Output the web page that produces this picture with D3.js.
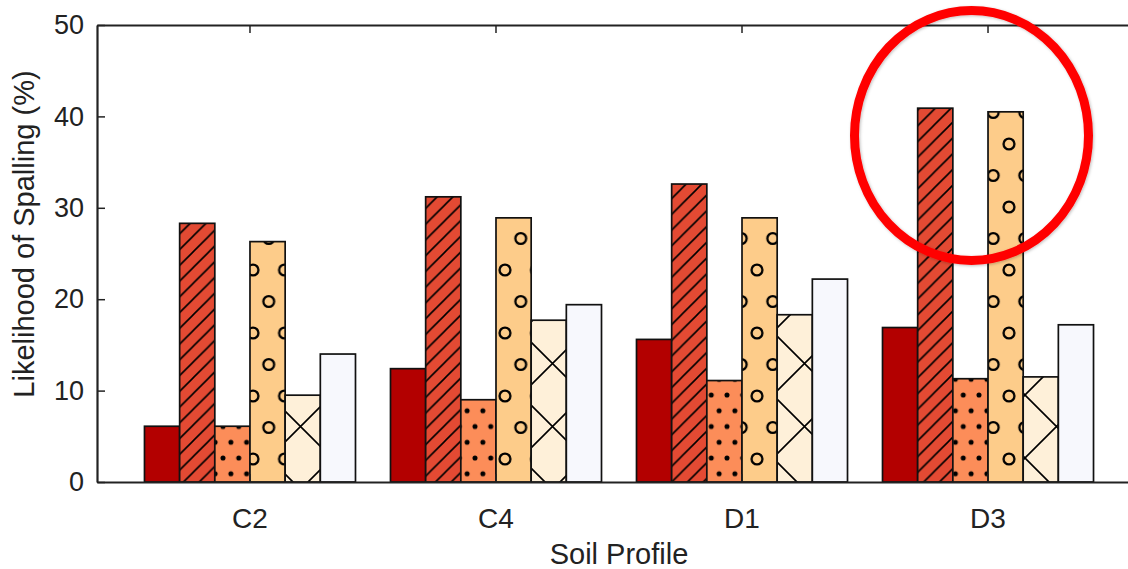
<!DOCTYPE html>
<html>
<head>
<meta charset="utf-8">
<script src="https://cdn.jsdelivr.net/npm/d3@7"></script>
<style>
  html, body { margin: 0; padding: 0; background: #ffffff; }
  svg { display: block; }
  text { font-family: "Liberation Sans", Arial, Helvetica, sans-serif; fill: #222; }
</style>
</head>
<body>
<svg id="chart" width="1128" height="569"></svg>
<script>
const categories = ["C2", "C4", "D1", "D3"];
const seriesNames = ["s1", "s2", "s3", "s4", "s5", "s6"];
const s1 = [6.1, 12.4, 15.6, 16.9];
const s2 = [28.3, 31.2, 32.6, 40.9];
const s3 = [6.1, 9.0, 11.1, 11.3];
const s4 = [26.3, 28.9, 28.9, 40.5];
const s5 = [9.5, 17.7, 18.3, 11.5];
const s6 = [14.0, 19.4, 22.2, 17.2];
const yTicks = [0, 10, 20, 30, 40, 50];
const xTitle = "Soil Profile";
const yTitle = "Likelihood of Spalling (%)";

const seriesValues = [s1, s2, s3, s4, s5, s6];
const colors = ["#b30000", "#e34a33", "#fc8d59", "#fdcc8a", "#fef0d9", "#f7f8fd"];
const hatches = [null, "diag", "dots", "rings", "cross", null];

const svg = d3.select("#chart");
const mLeft = 97, mRight = 1141, mTop = 25, mBottom = 482;

const x = d3.scaleBand().domain(categories).range([mLeft, mRight])
  .paddingInner(35 / 246).paddingOuter(0.193);
const xs = d3.scaleBand().domain(seriesNames).range([0, x.bandwidth()]).padding(0);
const y = d3.scaleLinear().domain([0, 50]).range([mBottom, mTop]);

// patterns
const defs = svg.append("defs");
const shadow = defs.append("filter").attr("id", "shadow")
  .attr("x", "-20%").attr("y", "-20%").attr("width", "140%").attr("height", "140%");
shadow.append("feDropShadow").attr("dx", 1).attr("dy", 1).attr("stdDeviation", 1.5)
  .attr("flood-color", "#000").attr("flood-opacity", 0.25);

const P = 15.75;
const pDiag = defs.append("pattern").attr("id", "diag").attr("patternUnits", "userSpaceOnUse")
  .attr("width", P).attr("height", P).attr("patternTransform", "translate(4,0)");
pDiag.append("path").attr("d", `M-2,${P + 2} L${P + 2},-2 M${-P / 2},${P / 2} L${P / 2},${-P / 2} M${P / 2},${P * 1.5} L${P * 1.5},${P / 2}`)
  .attr("stroke", "#000").attr("stroke-width", 1.6);

const pDots = defs.append("pattern").attr("id", "dots").attr("patternUnits", "userSpaceOnUse")
  .attr("width", P).attr("height", 2 * P).attr("patternTransform", "translate(2.5,17)");
[[0, 0], [P, 0], [P / 2, P], [0, 2 * P], [P, 2 * P]].forEach(([cx, cy]) => {
  pDots.append("circle").attr("cx", cx).attr("cy", cy).attr("r", 2.5).attr("fill", "#000");
});

const R = 31.5;
const pRings = defs.append("pattern").attr("id", "rings").attr("patternUnits", "userSpaceOnUse")
  .attr("width", R).attr("height", 2 * R).attr("patternTransform", "translate(1,18)");
[[0, 0], [R, 0], [R / 2, R], [0, 2 * R], [R, 2 * R]].forEach(([cx, cy]) => {
  pRings.append("circle").attr("cx", cx).attr("cy", cy).attr("r", 5.4)
    .attr("fill", "none").attr("stroke", "#000").attr("stroke-width", 2.3);
});

const C = 63;
const pCross = defs.append("pattern").attr("id", "cross").attr("patternUnits", "userSpaceOnUse")
  .attr("width", C).attr("height", C).attr("patternTransform", "translate(17,17)");
pCross.append("path").attr("d", `M-2,-2 L${C + 2},${C + 2} M-2,${C + 2} L${C + 2},-2`)
  .attr("stroke", "#000").attr("stroke-width", 1.6);

// bars
const groups = svg.append("g").selectAll("g").data(categories).join("g")
  .attr("transform", d => `translate(${x(d)},0)`);

seriesNames.forEach((s, si) => {
  groups.each(function (cat, ci) {
    const v = seriesValues[si][ci];
    const g = d3.select(this);
    const bx = xs(s), bw = xs.bandwidth();
    g.append("rect").attr("x", bx).attr("y", y(v)).attr("width", bw).attr("height", y(0) - y(v))
      .attr("fill", colors[si]);
    if (hatches[si]) {
      g.append("rect").attr("x", bx + x(cat)).attr("y", y(v)).attr("width", bw).attr("height", y(0) - y(v))
        .attr("fill", `url(#${hatches[si]})`)
        .attr("transform", `translate(${-x(cat)},0)`);
    }
    g.append("rect").attr("x", bx).attr("y", y(v)).attr("width", bw).attr("height", y(0) - y(v))
      .attr("fill", "none").attr("stroke", "#111").attr("stroke-width", 1.7);
  });
});

// axes
const yAxis = d3.axisLeft(y).tickValues(yTicks).tickSizeInner(-8).tickSizeOuter(0).tickPadding(13);
const yg = svg.append("g").attr("transform", `translate(${mLeft},0)`).call(yAxis);
yg.select(".domain").attr("stroke", "#222").attr("stroke-width", 2.2);
yg.selectAll(".tick line").attr("stroke", "#222").attr("stroke-width", 1.5);
yg.selectAll(".tick text").attr("font-size", 27).attr("fill", "#222")
  .attr("font-family", "Liberation Sans, Arial, sans-serif");

const xAxisB = d3.axisBottom(x).tickSizeInner(-8).tickSizeOuter(0).tickPadding(26);
const xb = svg.append("g").attr("transform", `translate(0,${mBottom})`).call(xAxisB);
xb.select(".domain").attr("stroke", "#222").attr("stroke-width", 2.2);
xb.selectAll(".tick line").attr("stroke", "#222").attr("stroke-width", 1.5);
xb.selectAll(".tick text").attr("font-size", 28).attr("fill", "#222")
  .attr("font-family", "Liberation Sans, Arial, sans-serif");

const xAxisT = d3.axisTop(x).tickSizeInner(-8).tickSizeOuter(0).tickFormat("");
const xt = svg.append("g").attr("transform", `translate(0,${mTop})`).call(xAxisT);
xt.select(".domain").attr("stroke", "#222").attr("stroke-width", 2.2);
xt.selectAll(".tick line").attr("stroke", "#222").attr("stroke-width", 1.5);

// titles
svg.append("text").attr("x", (mLeft + mRight) / 2).attr("y", 564).attr("text-anchor", "middle")
  .attr("font-size", 29).text(xTitle);
svg.append("text").attr("transform", `translate(34,234) rotate(-90)`).attr("text-anchor", "middle")
  .attr("font-size", 29).text(yTitle);

// highlight circle
svg.append("ellipse").attr("cx", 971.5).attr("cy", 135.5).attr("rx", 117).attr("ry", 125)
  .attr("fill", "none").attr("stroke", "#ff0000").attr("stroke-width", 9)
  .attr("filter", "url(#shadow)");
</script>
</body>
</html>
